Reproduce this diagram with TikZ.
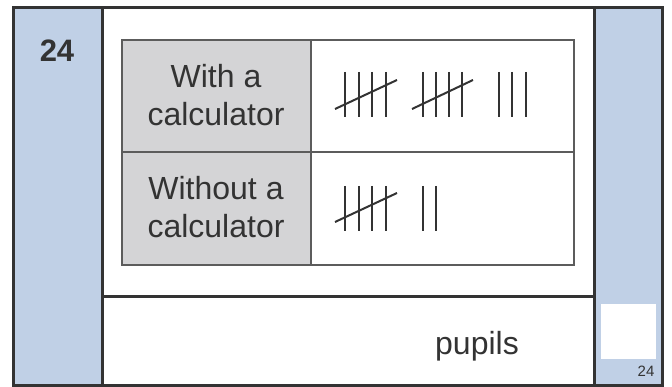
\documentclass[tikz,border=0pt]{standalone}
\usepackage{fontspec}
\setmainfont{Liberation Sans}
\definecolor{panelblue}{HTML}{C0D0E6}
\definecolor{cellgray}{HTML}{D4D4D6}
\definecolor{ink}{HTML}{333333}
\begin{document}
\begin{tikzpicture}[x=1pt,y=-1pt,
  frame/.style={draw=ink,line width=3pt},
  grid/.style={draw=ink!80,line width=1.2pt},
  tally/.style={draw=ink,line width=1.2pt},
  slash/.style={draw=ink,line width=2pt},
  label/.style={text=ink,font=\fontsize{32}{38}\selectfont,align=center}]
\useasboundingbox (0,0) rectangle (672,387);
% blue panels
\fill[panelblue] (13,8) rectangle (102,385);
\fill[panelblue] (594,8) rectangle (662,385);
\fill[white] (601,304) rectangle (656,359);
% frame
\draw[frame] (13,8) rectangle (662,385);
\draw[frame] (102,8) -- (102,385);
\draw[frame] (594,8) -- (594,385);
\draw[frame] (102,297) -- (594,297);
% table
\fill[cellgray] (122,40) rectangle (311,265);
\draw[grid] (122,40) rectangle (574,265);
\draw[grid] (311,40) -- (311,265);
\draw[grid] (122,152) -- (574,152);
% texts
\node[text=ink,font=\fontsize{31}{36}\selectfont\bfseries] (num) at (57,51) {24};
\node[label] (with) at (216,95) {With a\\calculator};
\node[label] (without) at (216,207) {Without a\\calculator};
\node[label,anchor=base] (pupils) at (477,355) {pupils};
\node[text=ink,font=\fontsize{15}{17}\selectfont] (small) at (646,371) {24};
% tallies row 1
\foreach \x in {345,359,372,386,423,436,449,462,499,512,526}
  \draw[tally] (\x,72) -- (\x,117);
\draw[slash] (335,109) -- (397,80);
\draw[slash] (412,109) -- (473,80);
% tallies row 2
\foreach \x in {345,359,372,386,423,436}
  \draw[tally] (\x,186) -- (\x,231);
\draw[slash] (335,222) -- (397,193);
\end{tikzpicture}
\end{document}
